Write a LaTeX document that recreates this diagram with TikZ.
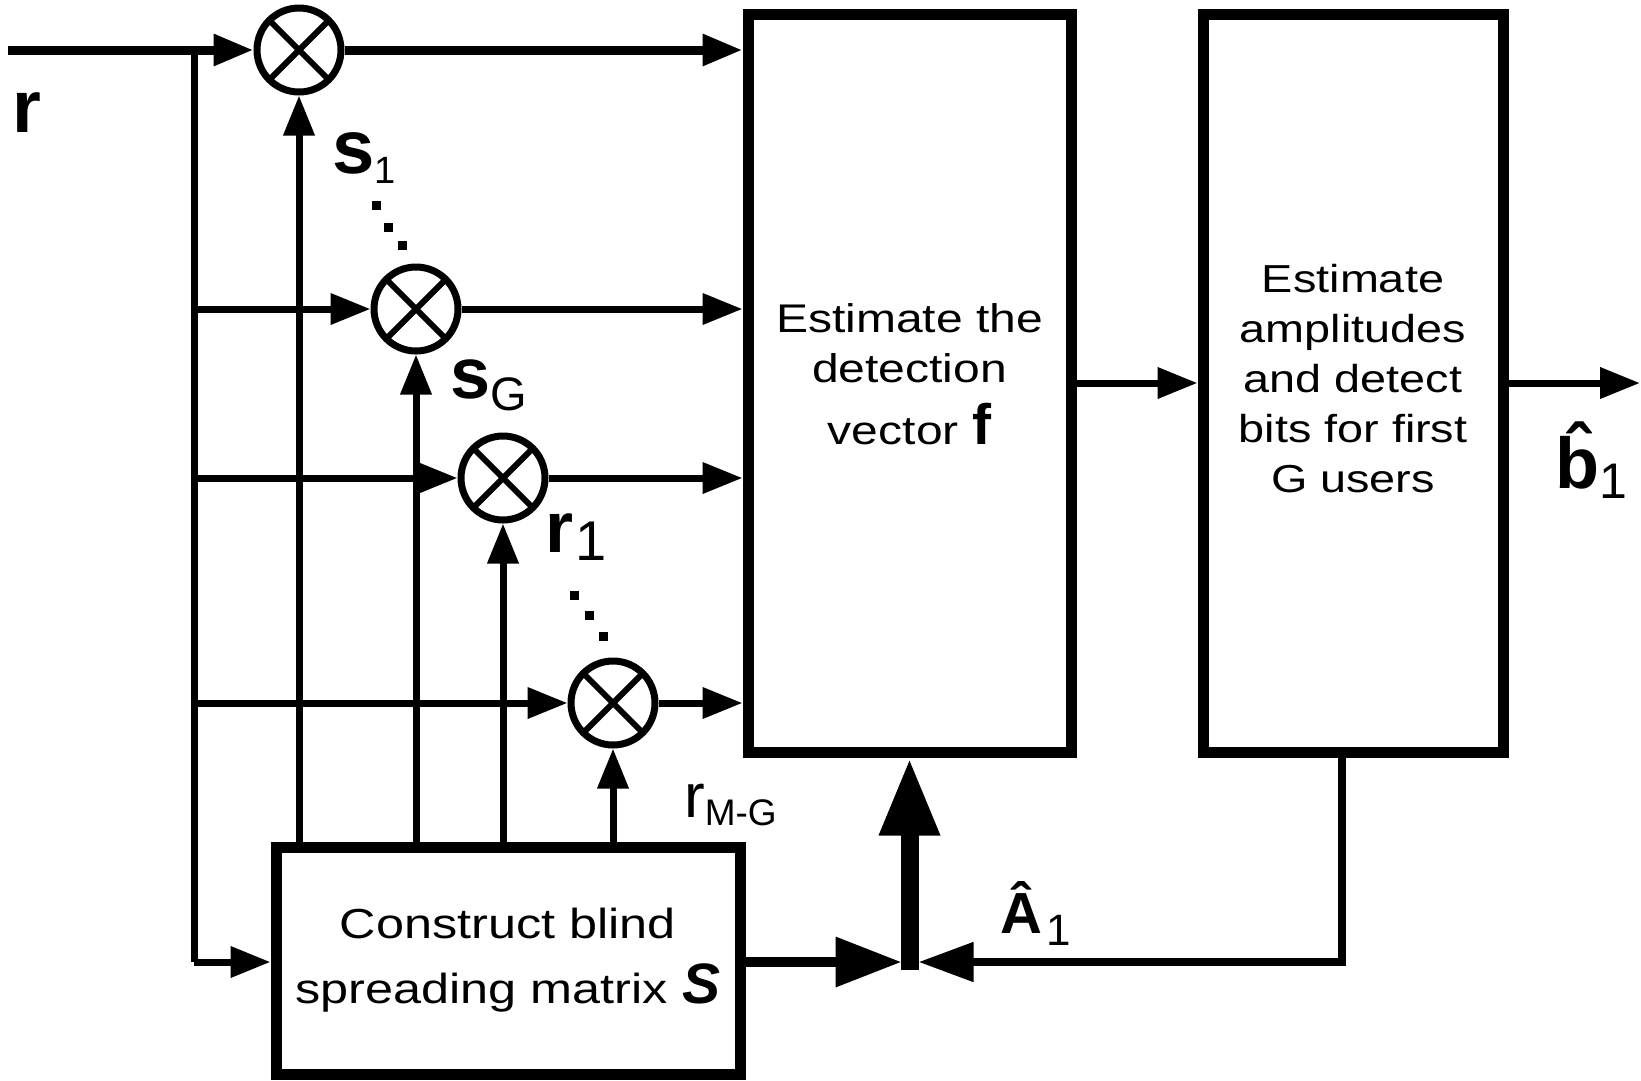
\documentclass[tikz,border=0pt]{standalone}
\usepackage{fontspec}
\setmainfont{Liberation Sans}
\newfontfamily\boxfont[FakeStretch=1.2]{Liberation Sans}
\usetikzlibrary{arrows.meta,calc}
\begin{document}
\begin{tikzpicture}[x=1pt,y=-1pt,
  ln/.style={line width=7pt},
  tip/.style={-{Triangle[length=40pt,width=30pt]}},
  mult/.style={circle,draw,line width=7pt,minimum size=84pt,inner sep=0pt},
  blk/.style={draw,line width=11pt,rectangle,inner sep=0pt,align=center},
  lbl/.style={anchor=base west,inner sep=0pt},
]
\useasboundingbox (0,0) rectangle (1641,1080);

% blocks
\node[blk,minimum width=323pt,minimum height=738pt,text depth=18pt,font=\boxfont\fontsize{40}{50}\selectfont] (box1) at (909.5,383)
  {Estimate the\\detection\\[12pt]vector {\normalfont\bfseries\fontsize{57}{57}\selectfont f}};
\node[blk,minimum width=300pt,minimum height=738pt,text depth=10pt,font=\boxfont\fontsize{39}{50}\selectfont] (box2) at (1353,383)
  {Estimate\\amplitudes\\and detect\\bits for first\\G users};
\node[blk,minimum width=464pt,minimum height=227pt,font=\boxfont\fontsize{42}{50}\selectfont] (cons) at (508,960.5)
  {Construct blind\\[15pt]spreading matrix {\normalfont\bfseries\itshape\fontsize{57}{57}\selectfont S}};

% multipliers
\node[mult] (m1) at (299,50) {};
\node[mult] (m2) at (416,309) {};
\node[mult] (m3) at (503,478) {};
\node[mult] (m4) at (613,703) {};
\foreach \m in {m1,m2,m3,m4}{
  \draw[line width=6pt] (\m.center) +(45:40) -- +(225:40);
  \draw[line width=6pt] (\m.center) +(135:40) -- +(315:40);
}

% input and bus
\coordinate (rin) at (8,50);
\coordinate (bt) at (194,50);
\coordinate (bb) at (194,962);
\draw[line width=9pt,tip] (rin) -- (m1.west);
\draw[ln] (bt) -- (bb);
\draw[ln,tip] (bb) -- (bb -| cons.west);
\draw[ln,tip] (bt |- m2) -- (m2.west);
\draw[ln,tip] (bt |- m3) -- (m3.west);
\draw[ln,tip] (bt |- m4) -- (m4.west);

% multiplier outputs
\draw[line width=9pt,tip] (m1.east) -- (m1 -| box1.west);
\draw[ln,tip] (m2.east) -- (m2 -| box1.west);
\draw[ln,tip] (m3.east) -- (m3 -| box1.west);
\draw[ln,tip] (m4.east) -- (m4 -| box1.west);

% spreading vectors up
\draw[ln,tip] (cons.north -| m1) -- (m1.south);
\draw[ln,tip] (cons.north -| m2) -- (m2.south);
\draw[ln,tip] (cons.north -| m3) -- (m3.south);
\draw[ln,tip] (cons.north -| m4) -- (m4.south);

% box to box and output
\coordinate (bout) at (1640,383);
\draw[ln,tip] (box1.east) -- (box2.west);
\draw[ln,tip] (box2.east) -- (bout);

% junction
\coordinate (junc) at (909.5,962);
\coordinate (fb) at ($(box2.south)+(-11,0)$);
\draw[line width=10pt,-{Triangle[length=66pt,width=48pt]}] (cons.east |- junc) -- ($(junc)+(-8,0)$);
\draw[line width=8pt,-{Triangle[length=55pt,width=38pt]}] (fb) |- ($(junc)+(9,0)$);
\draw[line width=18pt,-{Triangle[length=78pt,width=56pt]}] ($(junc)+(0,8)$) -- (box1.south);

% dots
\foreach \p in {(376,205),(388,227),(402,245),(574,595),(589,615),(603,636)}
  \fill \p ++(-4.5,-4.5) rectangle ++(9,9);

% labels
\node[lbl,font=\bfseries\fontsize{74}{74}\selectfont] (lr) at (12,132) {r};
\node[lbl] (ls1) at (332,173) {\bfseries\fontsize{76}{76}\selectfont s\mdseries\fontsize{38}{38}\selectfont\raisebox{-10pt}{1}};
\node[lbl] (lsG) at (450,398) {\bfseries\fontsize{72}{72}\selectfont s\mdseries\fontsize{47}{47}\selectfont\raisebox{-12pt}{G}};
\node[lbl] (lr1) at (545,552) {\bfseries\fontsize{72}{72}\selectfont r\mdseries\fontsize{56}{56}\selectfont\hspace{2pt}\raisebox{-8pt}{1}};
\node[lbl] (lrMG) at (684,817) {\fontsize{62}{62}\selectfont r\fontsize{37}{37}\selectfont\raisebox{-8pt}{M-G}};
\node[lbl] (lA) at (1000,933) {\bfseries\fontsize{58}{58}\selectfont Â\mdseries\fontsize{44}{44}\selectfont\hspace{4pt}\raisebox{-12pt}{1}};
\node[lbl] (lb) at (1555,488) {\bfseries\fontsize{72}{72}\selectfont b̂\mdseries\fontsize{50}{50}\selectfont\raisebox{-10pt}{1}};
\end{tikzpicture}
\end{document}
